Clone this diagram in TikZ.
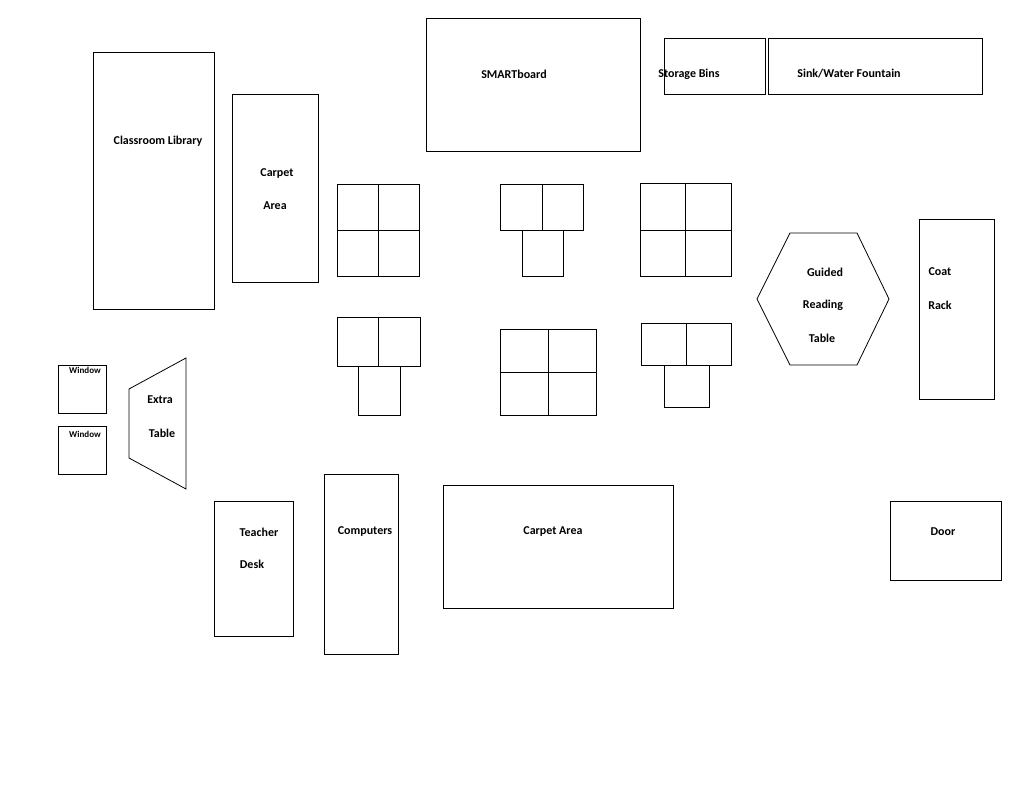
\documentclass[tikz,border=0pt]{standalone}
\usepackage{fontspec}
\setmainfont{Carlito}
\begin{document}
\begin{tikzpicture}[x=1pt,y=-1pt,line width=0.8pt,
  lbl/.style={font=\bfseries\fontsize{12}{14}\selectfont,inner sep=0pt},
  small/.style={font=\bfseries\fontsize{9}{10}\selectfont,inner sep=0pt}]
	\useasboundingbox (0,0) rectangle (1023,791);
	% walls and furniture
	\draw (93,52) rectangle (214,309);
	\draw (232,94) rectangle (318,282);
	\draw (426,18) rectangle (640,151);
	\draw (664,38) rectangle (765,94);
	\draw (768,38) rectangle (982,94);
	\draw (919,219) rectangle (994,399);
	\draw (58,365) rectangle (106,413);
	\draw (58,426) rectangle (106,474);
	\draw (214,501) rectangle (293,636);
	\draw (324,474) rectangle (398,654);
	\draw (443,485) rectangle (673,608);
	\draw (890,501) rectangle (1001,580);
	\draw (757,299) -- (790,233) -- (857,233) -- (889,299) -- (857,365) -- (790,365) -- cycle;
	\draw (129,389) -- (186,358) -- (186,489) -- (129,458) -- cycle;
	% desk groups
	\draw (337,184) rectangle (419,276) (378,184) -- (378,276) (337,230) -- (419,230);
	\draw (500,184) rectangle (583,230) (542,184) -- (542,230) (522,230) rectangle (563,276);
	\draw (640,183) rectangle (731,276) (685,183) -- (685,276) (640,230) -- (731,230);
	\draw (337,317) rectangle (420,366) (378,317) -- (378,366) (358,366) rectangle (400,415);
	\draw (500,329) rectangle (596,415) (548,329) -- (548,415) (500,372) -- (596,372);
	\draw (641,323) rectangle (731,365) (686,323) -- (686,365) (664,365) rectangle (709,407);
	% labels
	\node[lbl] (lib) at (158,141) {Classroom Library};
	\node[lbl] (cp1) at (277,174) {Carpet};
	\node[lbl] (cp2) at (275,206) {Area};
	\node[lbl] (smart) at (514,74) {SMARTboard};
	\node[lbl] (bins) at (689,74) {Storage Bins};
	\node[lbl] (sink) at (849,74) {Sink/Water Fountain};
	\node[lbl] (gr1) at (825,272) {Guided};
	\node[lbl] (gr2) at (823,305) {Reading};
	\node[lbl] (gr3) at (822,338) {Table};
	\node[lbl] (coat1) at (940,272) {Coat};
	\node[lbl] (coat2) at (940,305) {Rack};
	\node[small] (win1) at (85,370) {Window};
	\node[small] (win2) at (85,434) {Window};
	\node[lbl] (ex1) at (160,400) {Extra};
	\node[lbl] (ex2) at (162,433) {Table};
	\node[lbl] (td1) at (259,532) {Teacher};
	\node[lbl] (td2) at (252,564) {Desk};
	\node[lbl] (comp) at (365,532) {Computers};
	\node[lbl] (cp3) at (553,532) {Carpet Area};
	\node[lbl] (door) at (943,532) {Door};
\end{tikzpicture}
\end{document}
